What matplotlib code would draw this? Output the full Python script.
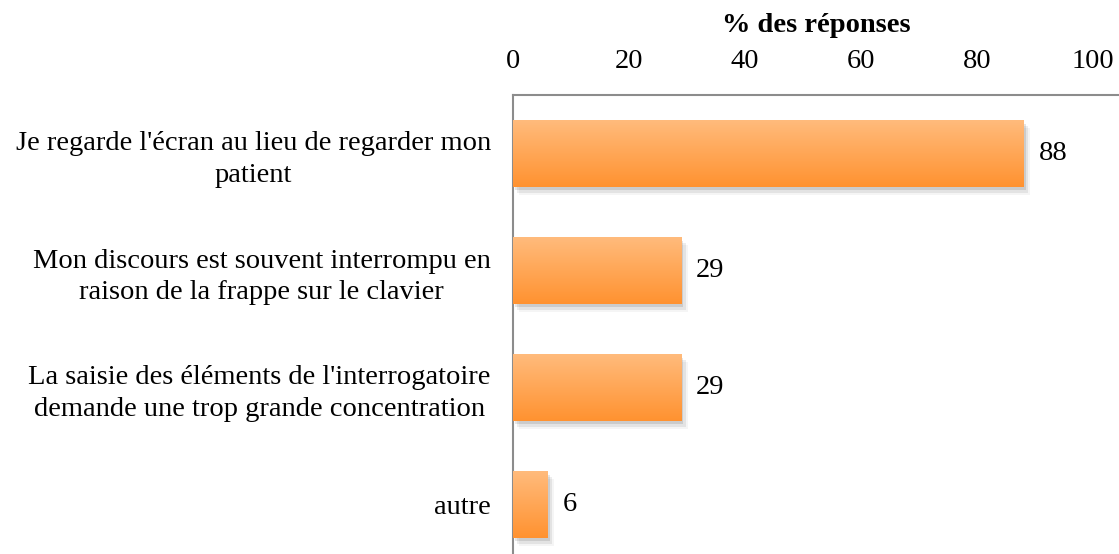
import numpy as np
import matplotlib.pyplot as plt
from matplotlib.colors import LinearSegmentedColormap
from matplotlib.patches import Rectangle

# ─── Data ─────────────────────────────────────────────────────────────────────
categories = [
    "Je regarde l'écran au lieu de regarder mon\npatient",
    "Mon discours est souvent interrompu en\nraison de la frappe sur le clavier",
    "La saisie des éléments de l'interrogatoire\ndemande une trop grande concentration",
    "autre",
]
values = [88, 29, 29, 6]
xticks = [0, 20, 40, 60, 80, 100]

plt.rcParams["font.family"] = ["Liberation Serif", "DejaVu Serif"]
FS = 20.5

W, H = 1119, 554
fig = plt.figure(figsize=(W / 100, H / 100), dpi=100)
left, top = 513 / W, 1 - 95 / H
ax_h = 468 / H
ax = fig.add_axes([left, top - ax_h, 1 - left, ax_h])

y = np.arange(len(categories))
bar_h = 0.57
bars = ax.barh(y, values, height=bar_h, color="none", edgecolor="none", zorder=3)

cmap = LinearSegmentedColormap.from_list("orange", ["#ffbb7c", "#ff9230"])
grad = np.linspace(0, 1, 256).reshape(-1, 1)
for b, v in zip(bars, values):
    x0, y0 = b.get_x(), b.get_y()
    w, h = b.get_width(), b.get_height()
    # soft drop shadow
    for k, a in enumerate([0.10, 0.07, 0.04]):
        off = 0.4 + k * 0.35
        ax.add_patch(Rectangle((x0 + off, y0 + 0.03 + k * 0.02), w, h,
                               facecolor="black", alpha=a, edgecolor="none", zorder=2))
    im = ax.imshow(grad, extent=(x0, x0 + w, y0 + h, y0), cmap=cmap,
                   aspect="auto", zorder=3)
    im.set_clip_path(b)
    ax.text(x0 + w + 2.6, y0 + h / 2, f"{v}",
            va="center", ha="left", fontsize=FS, zorder=4)

ax.set_xlim(0, 104.5)
ax.set_ylim(len(categories) - 0.5, -0.5)
ax.xaxis.tick_top()
ax.xaxis.set_label_position("top")
ax.set_xticks(xticks)
ax.set_xticklabels([str(t) for t in xticks], fontsize=FS)
ax.set_xlabel("% des réponses", fontsize=FS, fontweight="bold", labelpad=12)
ax.set_yticks(y)
ax.set_yticklabels(categories, fontsize=FS, ha="right", multialignment="center",
                   linespacing=1.35)
ax.tick_params(axis="y", length=0, pad=16)
ax.tick_params(axis="x", length=0, pad=15)

for s in ["right", "bottom"]:
    ax.spines[s].set_visible(False)
ax.spines["left"].set_color("#8c8c8c")
ax.spines["top"].set_color("#8c8c8c")
ax.spines["left"].set_linewidth(1.5)
ax.spines["top"].set_linewidth(1.5)

fig.savefig("out.png", dpi=100)
